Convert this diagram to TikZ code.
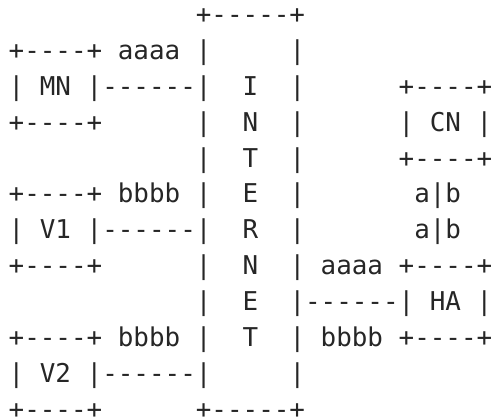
\documentclass[tikz,border=0pt]{standalone}
\usepackage{fontspec}
\setmonofont{DejaVu Sans Mono}
\begin{document}
\begin{tikzpicture}[x=1pt,y=1pt,
  t/.style={anchor=base west,inner sep=0pt,outer sep=0pt,font=\fontsize{25.9}{30}\ttfamily,text=black!85}]
\useasboundingbox (0,0) rectangle (493,418);
\begin{scope}[shift={(8.7,394.3)},x=15.6pt,y=-35.85pt]
% INTERNET box
\node[t] (itop) at (12,0) {+-----+};
\foreach \r in {1,...,10} \node[t] (il\r) at (12,\r) {|};
\foreach \r in {1,...,10} \node[t] (ir\r) at (18,\r) {|};
\node[t] (ibot) at (12,11) {+-----+};
\foreach \ch [count=\i from 2] in {I,N,T,E,R,N,E,T} \node[t] (ich\i) at (15,\i) {\ch};
% MN
\node[t] (mnt) at (0,1) {+----+};
\node[t] (mn) at (0,2) {|\ MN\ |};
\node[t] (mnb) at (0,3) {+----+};
\node[t] (la1) at (7,1) {aaaa};
\node[t] (mnlink) at (6,2) {------};
% V1
\node[t] (v1t) at (0,5) {+----+};
\node[t] (v1) at (0,6) {|\ V1\ |};
\node[t] (v1b) at (0,7) {+----+};
\node[t] (lb1) at (7,5) {bbbb};
\node[t] (v1link) at (6,6) {------};
% V2
\node[t] (v2t) at (0,9) {+----+};
\node[t] (v2) at (0,10) {|\ V2\ |};
\node[t] (v2b) at (0,11) {+----+};
\node[t] (lb2) at (7,9) {bbbb};
\node[t] (v2link) at (6,10) {------};
% CN
\node[t] (cnt) at (25,2) {+----+};
\node[t] (cn) at (25,3) {|\ CN\ |};
\node[t] (cnb) at (25,4) {+----+};
\node[t] (ab1) at (26,5) {a|b};
\node[t] (ab2) at (26,6) {a|b};
% HA
\node[t] (hat) at (25,7) {+----+};
\node[t] (ha) at (25,8) {|\ HA\ |};
\node[t] (hab) at (25,9) {+----+};
\node[t] (la3) at (20,7) {aaaa};
\node[t] (lb3) at (20,9) {bbbb};
\node[t] (halink) at (19,8) {------};
\end{scope}
\end{tikzpicture}
\end{document}
